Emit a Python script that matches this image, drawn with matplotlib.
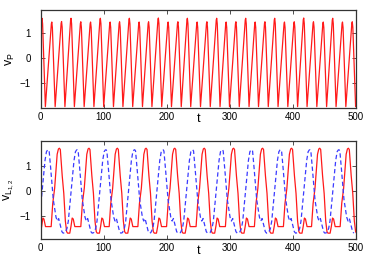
import numpy as np
import matplotlib
matplotlib.use("Agg")
import matplotlib.pyplot as plt

plt.rcParams["font.family"] = "Liberation Sans"
plt.rcParams["mathtext.default"] = "regular"
plt.rcParams["font.size"] = 7

# ---- top panel: v_P spike train (peak times / heights)
p_start = (0.0, 0.25)
p_peak_t = [2, 17.5, 33, 48, 63.5, 79, 94.5, 110, 125, 140.5, 156, 171, 186.5,
            202, 217.5, 232.5, 248, 263.5, 279, 294, 309.5, 325, 340, 355.5,
            371, 386.5, 402, 417, 432.5, 448, 463, 478.5, 494]
p_peak_v = [1.60, 1.45, 1.47, 1.60, 1.46, 1.45, 1.60, 1.45, 1.46, 1.60, 1.45,
            1.46, 1.61, 1.45, 1.46, 1.60, 1.45, 1.46, 1.60, 1.45, 1.46, 1.60,
            1.45, 1.46, 1.60, 1.45, 1.46, 1.61, 1.46, 1.45, 1.60, 1.45, 1.46]
p_fall = 5.3        # time from peak to trough
p_trough = -1.93

# ---- bottom panel: v_L1 (red) and v_L2 (blue), one cycle shape + peak times
red_peak_t = [-17, 29.5, 76.5, 121.5, 167, 212.5, 259.3, 305.8, 351.8, 397.8, 442.4, 487.8]
red_dt = [-13, -10.5, -9, -7.5, -3.5, -1.5, 0, 1.5, 4.5, 7, 9.5, 11.5, 13, 16.5,
          18.5, 20.3, 22, 24.5]
red_dv = [-1.42, -0.5, -0.2, 0.1, 1.45, 1.66, 1.69, 1.64, 0.6, -0.1, -1.2, -1.62,
          -1.68, -1.68, -1.4, -1.08, -1.12, -1.42]

blue_peak_t = [-34, 12, 58, 103.5, 149, 194, 241, 288, 334.6, 380.6, 427, 473]
blue_dt = [-19.5, -16.5, -14.3, -10.6, -8, -5.3, -3, -1.2, 0, 1.3, 3.7, 7.9,
           12.2, 14.3, 16.4, 19.6, 21.5, 23.5]
blue_dv = [-1.66, -1.5, -1.2, -0.23, 0.43, 1.2, 1.55, 1.62, 1.63, 1.58, 0.9, -0.36,
           -1.05, -1.2, -1.1, -1.42, -1.62, -1.68]

xticks = [0, 100, 200, 300, 400, 500]

# assemble curves from the read keypoints
tp, vp = [p_start[0]], [p_start[1]]
for t0, h in zip(p_peak_t, p_peak_v):
    tp += [t0 - 0.7, t0, t0 + 0.9, t0 + p_fall]
    vp += [h - 0.07, h, h - 0.22, p_trough]
tp.append(500)
vp.append(-1.75)

def build(peaks, dt, dv):
    t, v = [], []
    for t0 in peaks:
        t += [t0 + d for d in dt]
        v += list(dv)
    return np.array(t), np.array(v)

tr, vr = build(red_peak_t, red_dt, red_dv)
tb, vb = build(blue_peak_t, blue_dt, blue_dv)

fig = plt.figure(figsize=(3.74, 2.60), dpi=100)
ax1 = fig.add_axes([0.109, 0.586, 0.843, 0.3755])
ax2 = fig.add_axes([0.109, 0.081, 0.843, 0.377])

ax1.plot(tp, vp, color="#ff1a1a", lw=0.9)
ax2.plot(tr, vr, color="#ff1a1a", lw=0.9)
ax2.plot(tb, vb, color="#3a3aff", lw=0.9, dashes=(3.5, 2.2))

ax1.set_ylim(-1.97, 1.93)
ax2.set_ylim(-1.91, 1.98)

for ax, lab in [(ax1, "v$_P$"), (ax2, "v$_{L_{1,2}}$")]:
    ax.set_xlim(0, 500)
    ax.set_xticks(xticks)
    ax.set_yticks([-1, 0, 1])
    ax.tick_params(direction="in", top=True, right=True, length=3,
                   width=0.6, colors="#333333", labelcolor="black")
    ax.tick_params(axis="x", pad=3)
    ax.tick_params(axis="y", pad=7)
    for s in ax.spines.values():
        s.set_color("#333333")
        s.set_linewidth(0.9)
    ax.set_xlabel("t", fontsize=9)
    ax.xaxis.set_label_coords(0.5, -0.06)
    ax.set_ylabel(lab, fontsize=9)
    ax.yaxis.set_label_coords(-0.075, 0.5)

fig.savefig("out.png", dpi=100)
